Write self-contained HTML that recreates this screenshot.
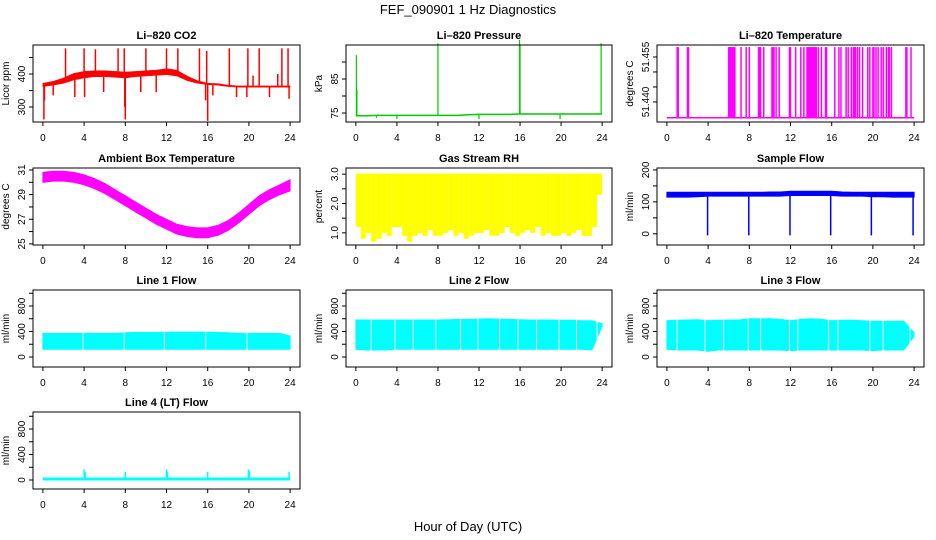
<!DOCTYPE html>
<html><head><meta charset="utf-8"><style>
html,body{margin:0;padding:0;background:#fff;}
svg{display:block;font-family:"Liberation Sans",Arial,sans-serif;}
</style></head><body>
<svg id="chart" width="936" height="540" viewBox="0 0 936 540" xmlns="http://www.w3.org/2000/svg">
<text x="468" y="14" text-anchor="middle" font-size="13">FEF_090901  1 Hz Diagnostics</text>
<text x="468" y="531" text-anchor="middle" font-size="13">Hour of Day (UTC)</text>
</svg>
<script>
// ---- data (hour of day based) ----
const xTicks = [0,4,8,12,16,20,24];
const hours = [0,1,2,3,4,5,6,7,8,9,10,11,12,13,14,15,16,17,18,19,20,21,22,23,24];

// Li-820 CO2 (ppm)
const co2Lo = [362,366,372,382,388,392,392,390,388,392,394,396,398,394,380,372,368,366,362,360,360,360,360,360,360];
const co2Hi = [372,378,388,402,408,410,410,408,406,408,410,412,416,412,394,380,372,371,366,364,364,364,364,364,364];
const co2SpikeHours = [2.2,4.0,5.1,7.3,7.9,10.0,12.0,13.1,15.2,15.9,18.1,19.9,21.0,22.8,23.2,23.8,0.1,0.15,1.0,3.1,4.05,5.9,7.95,8.0,9.5,11.0,16.0,15.8,16.5,18.8,19.8,22.0,23.9,20.4];
const co2SpikeValues = [478,478,475,478,478,478,478,478,478,470,478,478,478,400,478,478,262,320,335,330,330,345,300,262,345,345,258,320,335,330,330,330,325,395];

// Li-820 Pressure (kPa)
const presBase = [74.2,74.2,74.3,74.3,74.3,74.3,74.3,74.3,74.3,74.3,74.3,74.5,74.6,74.6,74.6,74.6,74.7,74.7,74.7,74.7,74.7,74.7,74.7,74.7,74.7];
const presSpikeHours = [0.05,0.1,8.0,15.95,16.0,23.9,4.0,12.0,19.9,2.0];
const presSpikeValues = [92,82,95.5,96.5,95,95.5,73.2,73.2,73.2,73.6];

// Li-820 Temperature (degrees C)
const tempBase = 51.4347;
const tempPulseTop = 51.4583;
const tempPulseHours = [1.0,1.1,2.0,2.1,6.0,6.1,6.15,6.2,6.3,6.4,6.5,6.6,7.2,7.7,8.0,8.9,9.0,9.1,9.4,10.2,10.3,10.4,10.6,10.9,11.9,12.0,12.5,13.0,13.3,13.6,13.7,13.8,13.9,14.0,14.1,14.2,14.3,14.4,14.5,14.7,15.0,15.4,15.5,16.3,16.7,16.9,17.4,17.6,17.9,18.1,18.2,18.3,18.5,18.7,19.0,19.5,19.7,20.0,20.1,20.3,20.5,20.8,21.0,21.3,21.5,21.6,21.8,23.2,23.3,23.7];

// Ambient box temperature (degrees C)
const ambLo = [30.0,30.1,30.1,30.0,29.8,29.5,29.1,28.6,28.1,27.6,27.1,26.6,26.2,25.8,25.6,25.5,25.5,25.7,26.1,26.7,27.4,28.1,28.6,29.0,29.3];
const ambHi = [30.8,30.9,30.9,30.8,30.6,30.3,29.9,29.4,28.9,28.4,27.9,27.4,27.0,26.6,26.4,26.3,26.3,26.5,26.9,27.5,28.2,28.9,29.4,29.8,30.2];

// Gas stream RH (percent), half-hour bins
const rhHi = 3.02;
const rhLo = [1.2,0.8,1.0,0.7,0.8,1.0,0.9,1.2,1.2,0.9,0.7,0.9,1.0,0.9,1.1,0.9,0.9,1.0,1.1,0.9,1.0,0.8,0.9,1.0,1.0,1.1,0.9,0.9,1.0,1.2,1.0,0.9,1.0,1.1,1.0,1.2,0.9,1.0,0.9,0.9,1.0,0.9,1.0,1.1,0.9,0.9,1.2,2.3];

// Sample flow (ml/min)
const sampLo = [115,115,115,116,118,118,118,118,118,118,118,118,120,120,120,120,120,118,118,118,116,116,115,115,115];
const sampHi = [130,130,130,130,130,130,130,130,130,130,131,131,133,133,133,133,133,131,130,130,130,130,130,130,130];
const sampDropHours = [3.95,7.95,11.95,15.9,19.85,23.9];
const sampDropValues = [-5,-5,-5,-5,-5,-5];

// Line flows (ml/min)
const line1Lo = [120,120,120,120,120,120,120,120,120,120,120,120,120,120,120,120,120,120,120,120,120,120,120,120,120];
const line1Hi = [370,370,370,370,370,370,370,370,380,385,385,385,390,390,390,390,390,385,380,370,370,370,370,370,330];
const line1Gaps = [3.9,7.9,11.8,15.8,19.8];
const line2Lo = [120,110,110,110,120,120,120,120,120,120,120,120,120,120,120,120,120,120,120,120,120,120,120,110,480];
const line2Hi = [580,580,580,580,580,580,580,580,580,585,590,590,595,600,595,590,585,580,580,580,575,575,570,570,520];
const line2Gaps = [1.5,3.8,5.6,7.8,10.2,11.9,14.0,15.8,17.6,19.8,21.5,23.5];
const line3Lo = [120,110,110,110,90,110,110,110,110,110,110,110,100,110,110,110,110,110,110,110,100,110,110,110,320];
const line3Hi = [570,575,580,585,570,575,580,580,600,600,600,590,570,590,600,590,570,575,575,570,560,560,560,560,380];
const line3Gaps = [1.0,3.7,5.5,7.9,9.1,11.9,12.7,15.7,16.6,19.7,21.0,23.6];

// Line 4 (LT) flow
const line4Base = 15;
const line4SpikeHours = [4.0,4.1,8.0,12.0,12.1,16.0,19.95,20.05,23.9];
const line4SpikeValues = [170,130,130,170,130,130,170,140,130];

// ---- layout ----
const svgNS = "http://www.w3.org/2000/svg";
const svg = document.getElementById('chart');
const cols = [{l:33,r:300},{l:346,r:612},{l:657,r:924}];
const rowsTop = [45,168,290,412];
const H = 77;

function mk(tag, attrs, parent){
  const e = document.createElementNS(svgNS, tag);
  for (const k in attrs) e.setAttribute(k, attrs[k]);
  (parent||svg).appendChild(e);
  return e;
}
function interp(xs, ys, h){
  if (h <= xs[0]) return ys[0];
  for (let i=1;i<xs.length;i++){
    if (h <= xs[i]){ const t=(h-xs[i-1])/(xs[i]-xs[i-1]); return ys[i-1]+t*(ys[i]-ys[i-1]); }
  }
  return ys[ys.length-1];
}

function panel(name, col, row, title, ylab, ymin, ymax, ticks, labels){
  const c = cols[col], top = rowsTop[row], bot = top+H;
  const g = mk('g', {});
  
  
  const p = {g, l:c.l, r:c.r, top, bot,
    X: h => c.l + (h + 0.96) / 25.92 * (c.r - c.l),
    Y: v => top + (ymax - v) / (ymax - ymin) * H};
  const t = mk('text', {x:(c.l+c.r)/2, y:top-6, 'text-anchor':'middle', 'font-size':11, 'font-weight':'bold'}, g);
  
  
  t.textContent = title;
  const yl = mk('text', {x:0, y:0, 'text-anchor':'middle', 'font-size':10, transform:`translate(${c.l-24},${top+H/2}) rotate(-90)`}, g);
  
  
  yl.textContent = ylab;
  p.data = mk('g', {}, g);
  
  
  xTicks.forEach(v => {
    const x = p.X(v);
    mk('line', {x1:x, x2:x, y1:bot, y2:bot+4, stroke:'#000', 'stroke-width':1}, g);
    const tl = mk('text', {x:x, y:bot+19, 'text-anchor':'middle', 'font-size':10}, g);
    
    
    tl.textContent = v;
  });
  ticks.forEach((v,i) => {
    const y = p.Y(v);
    mk('line', {x1:c.l-4, x2:c.l, y1:y, y2:y, stroke:'#000', 'stroke-width':1}, g);
    if (labels[i] !== '') {
      const tl = mk('text', {x:0, y:0, 'text-anchor':'middle', 'font-size':10, transform:`translate(${c.l-8},${y}) rotate(-90)`}, g);
      
      
      tl.textContent = labels[i];
    }
  });
  p.finish = () => {
    const b = mk('rect', {x:c.l, y:top, width:c.r-c.l, height:H, fill:'none', stroke:'#000', 'stroke-width':1}, g);
    
    
  };
  return p;
}

function band(p, xs, lo, hi, color, sw){
  let d = '';
  xs.forEach((h,i) => { d += (i?'L':'M') + p.X(h).toFixed(1) + ',' + p.Y(hi[i]).toFixed(1); });
  for (let i=xs.length-1;i>=0;i--) d += 'L' + p.X(xs[i]).toFixed(1) + ',' + p.Y(lo[i]).toFixed(1);
  const e = mk('path', {d:d+'Z', fill:color, stroke:color, 'stroke-width':sw===undefined?1:sw}, p.data);
  
  
}
function vlines(p, hs, fromFn, vals, color, w, nm){
  hs.forEach((h,i) => {
    const x = p.X(h);
    const e = mk('line', {x1:x, x2:x, y1:p.Y(fromFn(h)), y2:p.Y(vals[i]), stroke:color, 'stroke-width':w}, p.data);
    
    
  });
}
function gaps(p, hs, lo, hi, nm){
  hs.forEach(h => {
    const x = p.X(h);
    const e = mk('line', {x1:x, x2:x, y1:p.Y(interp(hours,hi,h))-1, y2:p.Y(interp(hours,lo,h))+1, stroke:'#fff', 'stroke-width':1}, p.data);
    
    
  });
}

// CO2
let p = panel('co2', 0, 0, 'Li\u2013820 CO2', 'Licor ppm', 254.5, 488, [300,350,400,450], ['300','','400','']);
band(p, hours, co2Lo, co2Hi, '#ff0000', 0.5);
vlines(p, co2SpikeHours, h => (interp(hours,co2Lo,h)+interp(hours,co2Hi,h))/2, co2SpikeValues, '#ff0000', 1.5, 'co2-spike');
p.finish();

// Pressure
p = panel('pressure', 1, 0, 'Li\u2013820 Pressure', 'kPa', 72.35, 95, [75,80,85,90], ['75','','85','']);
{ let d=''; hours.forEach((h,i)=>{ d += (i?'L':'M') + p.X(h).toFixed(1) + ',' + p.Y(presBase[i]).toFixed(1); });
  const e = mk('path',{d:d, fill:'none', stroke:'#00cc00', 'stroke-width':1.5}, p.data);
    }
vlines(p, presSpikeHours, h => interp(hours,presBase,h), presSpikeValues, '#00cc00', 1.2, 'pressure-spike');
p.finish();

// Temperature
p = panel('li820-temp', 2, 0, 'Li\u2013820 Temperature', 'degrees C', 51.4333, 51.459, [51.440,51.445,51.450,51.455], ['51.440','','','51.455']);
{ const e = mk('line',{x1:p.X(0), x2:p.X(24), y1:p.Y(tempBase), y2:p.Y(tempBase), stroke:'#ff00ff', 'stroke-width':1.5}, p.data);
    }
vlines(p, tempPulseHours, () => tempBase, tempPulseHours.map(() => tempPulseTop), '#ff00ff', 1.5, 'temperature-pulse');
p.finish();

// Ambient
p = panel('ambient-temp', 0, 1, 'Ambient Box Temperature', 'degrees C', 24.91, 31.16, [25,26,27,28,29,30,31], ['25','','27','','29','','31']);
band(p, hours, ambLo, ambHi, '#ff00ff');
p.finish();

// RH
p = panel('gas-rh', 1, 1, 'Gas Stream RH', 'percent', 0.586, 3.21, [1.0,1.5,2.0,2.5,3.0], ['1.0','','2.0','','3.0']);
rhLo.forEach((v,i) => {
  const x0 = p.X(i*0.5), x1 = p.X(i*0.5+0.5);
  const e = mk('rect',{x:x0, y:p.Y(rhHi), width:x1-x0, height:p.Y(v)-p.Y(rhHi), fill:'#ffff00'}, p.data);
   
});
p.finish();

// Sample flow
p = panel('sample-flow', 2, 1, 'Sample Flow', 'ml/min', -35, 206, [0,50,100,150,200], ['0','','100','','200']);
band(p, hours, sampLo, sampHi, '#0000ff');
vlines(p, sampDropHours, h => interp(hours,sampLo,h), sampDropValues, '#0000ff', 1.5, 'sample-flow-drop');
p.finish();

// Line flows
const flowTicks = [0,200,400,600,800,1000], flowLabels = ['0','','400','','800',''];
p = panel('line1-flow', 0, 2, 'Line 1 Flow', 'ml/min', -157, 1051, flowTicks, flowLabels);
band(p, hours, line1Lo, line1Hi, '#00ffff'); gaps(p, line1Gaps, line1Lo, line1Hi, 'line1-gap'); p.finish();
p = panel('line2-flow', 1, 2, 'Line 2 Flow', 'ml/min', -157, 1051, flowTicks, flowLabels);
band(p, hours, line2Lo, line2Hi, '#00ffff'); gaps(p, line2Gaps, line2Lo, line2Hi, 'line2-gap'); p.finish();
p = panel('line3-flow', 2, 2, 'Line 3 Flow', 'ml/min', -157, 1051, flowTicks, flowLabels);
band(p, hours, line3Lo, line3Hi, '#00ffff'); gaps(p, line3Gaps, line3Lo, line3Hi, 'line3-gap'); p.finish();

// Line 4
p = panel('line4-flow', 0, 3, 'Line 4 (LT) Flow', 'ml/min', -141, 1067, flowTicks, flowLabels);
{ const e = mk('line',{x1:p.X(0), x2:p.X(24), y1:p.Y(line4Base), y2:p.Y(line4Base), stroke:'#00ffff', 'stroke-width':3}, p.data);
    }
vlines(p, line4SpikeHours, () => line4Base, line4SpikeValues, '#00ffff', 1.5, 'line4-spike');
p.finish();
</script>
</body></html>
